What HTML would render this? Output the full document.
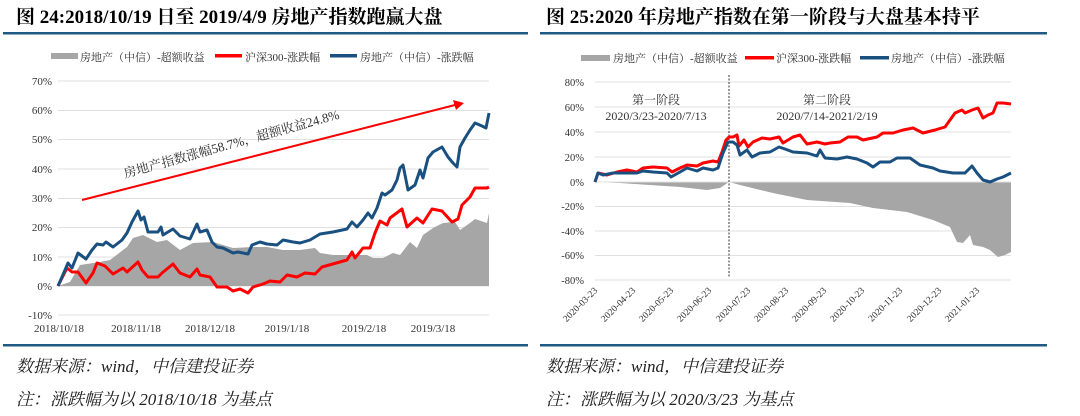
<!DOCTYPE html>
<html><head><meta charset="utf-8"><style>
body{margin:0;background:#fff;}
svg{display:block;font-family:"Liberation Serif","Noto Serif CJK SC",serif;}
</style></head><body>
<svg width="1080" height="416" viewBox="0 0 1080 416" xmlns="http://www.w3.org/2000/svg">
<!-- titles -->
<text x="16" y="23" font-size="19" font-weight="bold" fill="#000">图 24:2018/10/19 日至 2019/4/9 房地产指数跑赢大盘</text>
<text x="546" y="23" font-size="19" font-weight="bold" fill="#000">图 25:2020 年房地产指数在第一阶段与大盘基本持平</text>
<rect x="3" y="32" width="525" height="2.5" fill="#1f5a85"/>
<rect x="540" y="32" width="507" height="2.5" fill="#1f5a85"/>
<rect x="3" y="344" width="525" height="2.5" fill="#1f5a85"/>
<rect x="540" y="344" width="507" height="2.5" fill="#1f5a85"/>
<g font-size="17" font-style="italic" fill="#222">
<text x="16" y="372">数据来源：wind，中信建投证券</text>
<text x="16" y="405">注：涨跌幅为以 2018/10/18 为基点</text>
<text x="546" y="372">数据来源：wind，中信建投证券</text>
<text x="546" y="405">注：涨跌幅为以 2020/3/23 为基点</text>
</g>

<!-- LEFT CHART -->
<g font-size="11" fill="#333">
<rect x="51" y="53" width="27" height="6" fill="#a6a6a6"/><text x="80" y="61">房地产（中信）-超额收益</text>
<rect x="215" y="54" width="27" height="3.5" fill="#ff0000"/><text x="245" y="61">沪深300-涨跌幅</text>
<rect x="330" y="54" width="27" height="3.5" fill="#1a5080"/><text x="360" y="61">房地产（中信）-涨跌幅</text>
</g>
<g stroke="#e0e0e0" stroke-width="1">
<line x1="58" y1="81" x2="489" y2="81"/><line x1="58" y1="110.5" x2="489" y2="110.5"/>
<line x1="58" y1="139.5" x2="489" y2="139.5"/><line x1="58" y1="169" x2="489" y2="169"/>
<line x1="58" y1="198.5" x2="489" y2="198.5"/><line x1="58" y1="227.5" x2="489" y2="227.5"/>
<line x1="58" y1="257" x2="489" y2="257"/><line x1="58" y1="286" x2="489" y2="286"/>
<line x1="58" y1="315" x2="489" y2="315"/>
</g>
<g font-size="11" fill="#333" text-anchor="end">
<text x="52" y="85">70%</text><text x="52" y="114">60%</text><text x="52" y="143">50%</text>
<text x="52" y="173">40%</text><text x="52" y="202">30%</text><text x="52" y="231">20%</text>
<text x="52" y="261">10%</text><text x="52" y="290">0%</text><text x="52" y="319">-10%</text>
</g>
<g font-size="11" fill="#333" text-anchor="middle">
<text x="59" y="332">2018/10/18</text><text x="136" y="332">2018/11/18</text><text x="210" y="332">2018/12/18</text>
<text x="287" y="332">2019/1/18</text><text x="364" y="332">2019/2/18</text><text x="433" y="332">2019/3/18</text>
</g>
<polygon fill="#a6a6a6" points="58,286 70,282 80,265 100,262 110,260 127,247 133,238 143,235 157,242 167,240 180,250 193,243 213,242 233,248 253,247 267,247 283,250 300,250 315,248 320,253 333,255 353,255 367,255 373,258 383,258 393,253 400,255 410,242 417,248 423,235 433,228 443,223 455,222 460,230 470,223 475,219 487,223 489,213 489,286"/>
<polyline fill="none" stroke="#ff0000" stroke-width="3" stroke-linejoin="round" points="58,286 67,268 72,272 78,272 86,283 93,273 97,263 105,266 113,274 123,268 127,272 138,262 142,270 148,277 158,277 162,273 173,264 180,273 190,277 197,269 200,275 210,277 217,287 227,287 233,291 240,289 248,293 253,287 263,284 270,281 280,282 287,275 297,277 305,273 315,274 322,267 347,260 352,252 355,258 363,248 370,248 375,233 380,221 387,225 390,218 402,209 407,227 417,218 423,223 432,209 442,211 452,222 458,219 462,205 470,197 475,188 487,188 489,187"/>
<polyline fill="none" stroke="#1a5080" stroke-width="3" stroke-linejoin="round" points="58,286 62,277 68,263 72,268 78,253 86,259 92,250 97,244 103,245 106,242 113,247 122,240 127,233 132,222 138,211 141,220 144,217 148,232 158,232 161,227 163,235 173,229 180,236 190,239 197,224 200,232 207,230 212,242 217,247 223,248 233,253 238,252 248,254 252,245 260,242 267,244 277,245 283,240 293,242 300,243 310,240 320,234 333,232 347,229 352,222 357,227 363,220 368,213 372,218 377,208 382,193 385,195 392,190 397,180 400,168 403,165 408,190 415,185 420,170 423,178 428,158 433,152 442,147 448,157 453,163 457,167 460,147 465,138 470,130 475,123 482,126 486,128 489,113"/>
<line x1="82" y1="200" x2="455" y2="105" stroke="#ff0000" stroke-width="2"/>
<polygon points="464,103 453,100 456,110" fill="#ff0000"/>
<text x="0" y="0" font-size="13" fill="#333" transform="translate(125,178) rotate(-15.5)">房地产指数涨幅58.7%，超额收益24.8%</text>

<!-- RIGHT CHART -->
<g font-size="11" fill="#333">
<rect x="581" y="55" width="29" height="6" fill="#a6a6a6"/><text x="613" y="62">房地产（中信）-超额收益</text>
<rect x="745" y="56" width="29" height="3.5" fill="#ff0000"/><text x="776" y="62">沪深300-涨跌幅</text>
<rect x="860" y="56" width="29" height="3.5" fill="#1a5080"/><text x="891" y="62">房地产（中信）-涨跌幅</text>
</g>
<g stroke="#e0e0e0" stroke-width="1">
<line x1="595" y1="82" x2="1011" y2="82"/><line x1="595" y1="107" x2="1011" y2="107"/>
<line x1="595" y1="132" x2="1011" y2="132"/><line x1="595" y1="157" x2="1011" y2="157"/>
<line x1="595" y1="206.5" x2="1011" y2="206.5"/><line x1="595" y1="231" x2="1011" y2="231"/>
<line x1="595" y1="255.5" x2="1011" y2="255.5"/><line x1="595" y1="280" x2="1011" y2="280"/>
</g>
<g font-size="10.5" fill="#333" text-anchor="end">
<text x="584" y="86">80%</text><text x="584" y="111">60%</text><text x="584" y="136">40%</text>
<text x="584" y="161">20%</text><text x="584" y="186">0%</text><text x="584" y="210">-20%</text>
<text x="584" y="235">-40%</text><text x="584" y="259">-60%</text><text x="584" y="284">-80%</text>
</g>
<g font-size="9.5" fill="#333" text-anchor="end">
<text transform="translate(598,291) rotate(-45)">2020-03-23</text>
<text transform="translate(636,291) rotate(-45)">2020-04-23</text>
<text transform="translate(674,291) rotate(-45)">2020-05-23</text>
<text transform="translate(712,291) rotate(-45)">2020-06-23</text>
<text transform="translate(751,291) rotate(-45)">2020-07-23</text>
<text transform="translate(789,291) rotate(-45)">2020-08-23</text>
<text transform="translate(827,291) rotate(-45)">2020-09-23</text>
<text transform="translate(865,291) rotate(-45)">2020-10-23</text>
<text transform="translate(903,291) rotate(-45)">2020-11-23</text>
<text transform="translate(942,291) rotate(-45)">2020-12-23</text>
<text transform="translate(980,291) rotate(-45)">2021-01-23</text>
</g>
<polygon fill="#a6a6a6" points="595,182 620,183 650,185 680,187 707,190 720,188 729,182 740,185 773,193 807,200 850,203 873,208 907,212 933,220 950,227 957,242 963,243 970,235 973,245 983,247 990,250 998,257 1005,255 1011,252 1011,182"/>
<line x1="595" y1="182" x2="1011" y2="182" stroke="#e0e0e0" stroke-width="1"/>
<line x1="729" y1="75" x2="729" y2="278" stroke="#333" stroke-width="1" stroke-dasharray="2,1.5"/>
<g font-size="12" fill="#333" text-anchor="middle">
<text x="656" y="104">第一阶段</text><text x="656" y="120">2020/3/23-2020/7/13</text>
<text x="827" y="104">第二阶段</text><text x="827" y="120">2020/7/14-2021/2/19</text>
</g>
<polyline fill="none" stroke="#ff0000" stroke-width="3" stroke-linejoin="round" points="595,182 598,173 607,175 617,172 627,170 637,172 643,168 653,167 667,168 672,172 680,168 687,165 697,166 703,163 713,161 718,162 722,152 726,140 729,137 733,137 737,135 739,146 744,140 748,147 753,142 762,138 770,139 779,137 783,143 793,137 800,135 807,144 817,142 825,144 830,143 840,142 848,137 857,137 863,140 877,137 883,133 893,133 903,130 913,128 923,133 935,130 945,127 955,113 962,110 965,113 972,110 978,108 983,118 988,115 993,113 997,103 1003,103 1011,104"/>
<polyline fill="none" stroke="#1a5080" stroke-width="3" stroke-linejoin="round" points="595,182 598,173 603,175 613,173 627,173 637,173 643,171 653,172 667,173 671,177 680,172 687,168 697,171 703,168 713,170 718,168 723,153 728,142 733,142 737,145 740,155 747,150 752,157 760,153 770,152 779,147 785,149 793,152 807,153 817,156 820,150 825,158 837,159 847,157 857,159 867,163 873,167 880,162 890,162 897,158 910,158 920,165 933,168 940,171 953,173 965,173 972,166 977,173 983,180 990,182 997,179 1003,177 1011,173"/>
</svg>
</body></html>
